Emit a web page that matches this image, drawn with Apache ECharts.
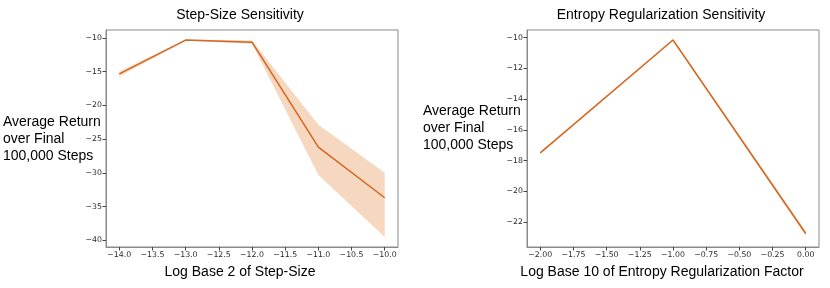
<!DOCTYPE html>
<html><head><meta charset="utf-8">
<script src="https://cdn.jsdelivr.net/npm/echarts@6/dist/echarts.min.js"></script>
<style>html,body{margin:0;padding:0;background:#fff}#c{width:830px;height:288px}</style>
</head><body><div id="c"></div>
<script>
// Step-size sensitivity
const stepX = [-14, -13, -12, -11, -10];
const stepMean = [-15.35, -10.35, -10.65, -26.2, -33.7];
const stepLow = [-15.75, -10.45, -10.9, -30.35, -39.5];
const stepHigh = [-15.0, -10.25, -10.4, -22.9, -30.0];
const stepXTicks = [-14.0, -13.5, -13.0, -12.5, -12.0, -11.5, -11.0, -10.5, -10.0];
const stepYTicks = [-40, -35, -30, -25, -20, -15, -10];
// Entropy regularization sensitivity
const entX = [-2, -1, 0];
const entMean = [-17.5, -10.15, -22.75];
const entLow = [-17.55, -10.2, -22.9];
const entHigh = [-17.45, -10.1, -22.6];
const entXTicks = [-2.0, -1.75, -1.5, -1.25, -1.0, -0.75, -0.5, -0.25, 0.0];
const entYTicks = [-22, -20, -18, -16, -14, -12, -10];

const titles = ['Step-Size Sensitivity', 'Entropy Regularization Sensitivity'];
const xTitles = ['Log Base 2 of Step-Size', 'Log Base 10 of Entropy Regularization Factor'];
const yTitle = 'Average Return\nover Final\n100,000 Steps';

const LINE = '#d4661f', BAND = '#f6d8c1';
const minus = s => String(s).replace('-', '\u2212');
const font = 'DejaVu Sans';
const TXT = 'Liberation Sans';

function xAxis(idx, min, max, ticks, dec) {
  return {
    type: 'value', gridIndex: idx, min, max,
    axisLine: {show: true, onZero: false, lineStyle: {color: '#8a8a8a', width: 1}},
    axisTick: {show: true, customValues: ticks, length: 3.5, lineStyle: {color: '#444'}},
    axisLabel: {customValues: ticks, fontFamily: font, fontSize: 7.8, color: '#2a2a2a', margin: 4,
      formatter: v => minus(v.toFixed(dec))},
    splitLine: {show: false}
  };
}
function yAxis(idx, min, max, ticks) {
  return {
    type: 'value', gridIndex: idx, min, max,
    axisLine: {show: true, onZero: false, lineStyle: {color: '#8a8a8a', width: 1}},
    axisTick: {show: true, customValues: ticks, length: 3.5, lineStyle: {color: '#444'}},
    axisLabel: {customValues: ticks, fontFamily: font, fontSize: 7.8, color: '#2a2a2a', margin: 4,
      formatter: v => minus(v)},
    splitLine: {show: false}
  };
}
function bandSeries(idx, xs, lo, hi) {
  return {
    type: 'custom', xAxisIndex: idx, yAxisIndex: idx, silent: true, z: 1,
    data: xs.map((x, i) => [x, lo[i], hi[i]]),
    encode: {x: 0, y: [1, 2]},
    renderItem: (params, api) => {
      if (params.dataIndex !== 0) return null;
      const pts = [];
      for (let i = 0; i < xs.length; i++) pts.push(api.coord([xs[i], hi[i]]));
      for (let i = xs.length - 1; i >= 0; i--) pts.push(api.coord([xs[i], lo[i]]));
      return {type: 'polygon', shape: {points: pts}, style: {fill: BAND}};
    }
  };
}

const chart = echarts.init(document.getElementById('c'), null, {renderer: 'canvas'});
chart.setOption({
  animation: false,
  backgroundColor: '#fff',
  grid: [
    {left: 106, top: 30, width: 292, height: 217, show: true, borderColor: '#8a8a8a', borderWidth: 1, backgroundColor: 'transparent'},
    {left: 527, top: 30, width: 292, height: 217, show: true, borderColor: '#8a8a8a', borderWidth: 1, backgroundColor: 'transparent'}
  ],
  xAxis: [xAxis(0, -14.2, -9.8, stepXTicks, 1), xAxis(1, -2.1, 0.1, entXTicks, 2)],
  yAxis: [yAxis(0, -41.0, -8.85, stepYTicks), yAxis(1, -23.63, -9.5, entYTicks)],
  graphic: [
    {type: 'text', x: 240, y: 15, style: {text: titles[0], font: '14px ' + TXT, fill: '#000', align: 'center', verticalAlign: 'middle'}},
    {type: 'text', x: 661, y: 15, style: {text: titles[1], font: '14px ' + TXT, fill: '#000', align: 'center', verticalAlign: 'middle'}},
    {type: 'text', x: 240, y: 272, style: {text: xTitles[0], font: '14px ' + TXT, fill: '#000', align: 'center', verticalAlign: 'middle'}},
    {type: 'text', x: 662, y: 272, style: {text: xTitles[1], font: '14px ' + TXT, fill: '#000', align: 'center', verticalAlign: 'middle'}},
    {type: 'text', x: 3, y: 139, style: {text: yTitle, font: '14px ' + TXT, fill: '#000', align: 'left', verticalAlign: 'middle', lineHeight: 17}},
    {type: 'text', x: 423, y: 128, style: {text: yTitle, font: '14px ' + TXT, fill: '#000', align: 'left', verticalAlign: 'middle', lineHeight: 17}}
  ],
  series: [
    bandSeries(0, stepX, stepLow, stepHigh),
    {type: 'line', xAxisIndex: 0, yAxisIndex: 0, z: 2, data: stepX.map((x, i) => [x, stepMean[i]]),
     symbol: 'none', lineStyle: {color: LINE, width: 1.5}},
    bandSeries(1, entX, entLow, entHigh),
    {type: 'line', xAxisIndex: 1, yAxisIndex: 1, z: 2, data: entX.map((x, i) => [x, entMean[i]]),
     symbol: 'none', lineStyle: {color: LINE, width: 1.5}}
  ]
});
</script></body></html>
